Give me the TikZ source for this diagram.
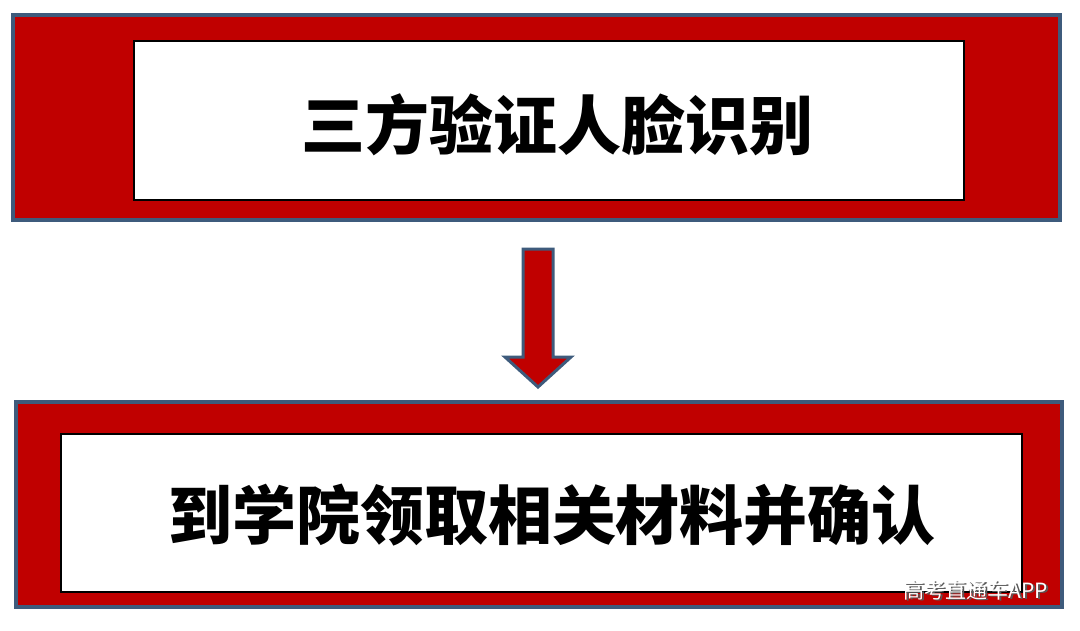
\documentclass[tikz,border=0pt]{standalone}
\usepackage{fontspec}
\newfontfamily\cjk{Noto Sans CJK SC}
\definecolor{boxred}{HTML}{C00000}
\definecolor{edgeblue}{HTML}{3E5B7C}
\begin{document}
\begin{tikzpicture}[x=1pt,y=-1pt,
  outerbox/.style={fill=boxred,draw=edgeblue,line width=4pt},
  innerbox/.style={fill=white,draw=black,line width=2pt},
  label/.style={font=\cjk\bfseries\fontsize{64}{68}\selectfont,text=black}]
\useasboundingbox (0,0) rectangle (1080,630);
\fill[white] (0,0) rectangle (1080,630);
% top
\draw[outerbox] (13,15) rectangle (1060,220);
\draw[innerbox] (134,41) rectangle (964,200);
\node[label] (t1) at (557,125) {三方验证人脸识别};
% arrow
\draw[fill=boxred,draw=edgeblue,line width=3pt,line join=miter]
  (523,249) -- (553,249) -- (553,357) -- (571,357) -- (538,387) -- (505,357) -- (523,357) -- cycle;
% bottom
\draw[outerbox] (16,402) rectangle (1062,607);
\draw[innerbox] (61,434) rectangle (1022,592);
\node[label] (t2) at (552,515) {到学院领取相关材料并确认};
% watermark
\node[font=\cjk\fontsize{21}{23}\selectfont,text=gray!70!black] (w0) at (977.8,591.8) {高考直通车APP};
\node[font=\cjk\fontsize{21}{23}\selectfont,text=white] (w) at (976,590) {高考直通车APP};
\end{tikzpicture}
\end{document}
